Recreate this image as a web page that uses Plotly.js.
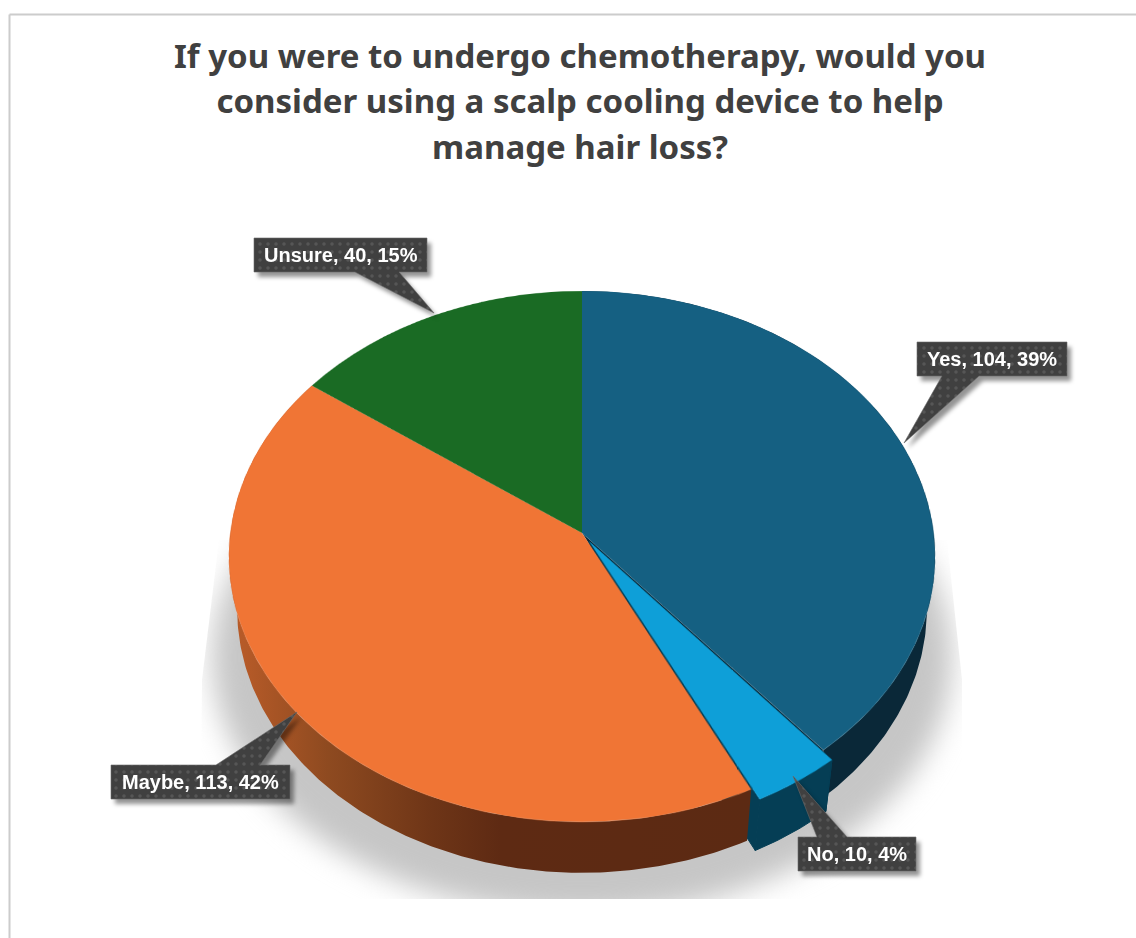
<!DOCTYPE html>
<html>
<head>
<meta charset="utf-8">
<script src="https://cdn.plot.ly/plotly-3.0.1.min.js"></script>
<style>
  html, body { margin: 0; padding: 0; background: #ffffff; overflow: hidden; }
  #stage { position: relative; width: 1136px; height: 938px; }
  #stage > div { position: absolute; }
  #base, #labels { left: 0; top: 0; width: 1136px; height: 938px; }
  #labels { pointer-events: none; }
  #groundClip {
    left: 0; top: 0; width: 1136px; height: 938px;
    clip-path: polygon(219px 540px, 947px 540px, 962px 680px, 962px 899px, 200px 899px, 202px 680px);
  }
  #ground {
    position: absolute; left: 212px; top: 400px; width: 740px; height: 515px;
    border-radius: 50%; background: #c6c6c6; filter: blur(14px);
  }
</style>
</head>
<body>
<div id="stage">
  <div id="groundClip"><div id="ground"></div></div>
  <div id="base"></div>
  <div id="disc"></div>
  <div id="labels"></div>
</div>
<script>
// Survey responses
const answers = ['Yes', 'No', 'Maybe', 'Unsure'];
const responses = [104, 10, 113, 40];
const faceColors = ['#156082', '#0E9FD8', '#F07535', '#1A6B24'];

const titleLines = [
  'If you were to undergo chemotherapy, would you',
  'consider using a scalp cooling device to help',
  'manage hair loss?'
];

// Tilted disc geometry
const centre = { x: 582, y: 533 };
const radius = 351.6;
const thickness = 82;
const tiltDeg = 41.5;
const viewDistance = 2630;
const pulls = [0, 0.038, 0, 0];
const maxPull = Math.max(...pulls);

const total = responses.reduce((a, b) => a + b, 0);
const tilt = tiltDeg * Math.PI / 180;

// Same projection as the CSS perspective applied to the pie element
function project(px, py, pz) {
  const yr = py * Math.cos(tilt) - pz * Math.sin(tilt);
  const zr = py * Math.sin(tilt) + pz * Math.cos(tilt);
  const s = viewDistance / (viewDistance - zr);
  return [centre.x + px * s, centre.y + yr * s];
}

// Slice angles, clockwise from twelve o'clock
let running = 0;
const sliceAngles = responses.map(v => {
  const a0 = running / total * 2 * Math.PI;
  running += v;
  return [a0, running / total * 2 * Math.PI];
});

function rimArc(a0, a1, depth, shift) {
  const pts = [];
  const n = Math.max(4, Math.ceil((a1 - a0) * 90));
  for (let i = 0; i <= n; i++) {
    const t = a0 + (a1 - a0) * i / n;
    pts.push(project(shift[0] + radius * Math.sin(t), shift[1] - radius * Math.cos(t), -depth));
  }
  return pts;
}

function polygonTrace(pts, extra) {
  const xs = pts.map(p => p[0]).concat(pts[0][0]);
  const ys = pts.map(p => p[1]).concat(pts[0][1]);
  return Object.assign({
    type: 'scatter', mode: 'lines', x: xs, y: ys, fill: 'toself',
    line: { width: 0 }, hoverinfo: 'skip', showlegend: false
  }, extra);
}

function outerWall(i, extra) {
  const [a0, a1] = sliceAngles[i];
  const mid = (a0 + a1) / 2;
  const off = pulls[i] * radius;
  const shift = [off * Math.sin(mid), -off * Math.cos(mid)];
  const top = rimArc(a0, a1, 0, shift);
  const bottom = rimArc(a0, a1, thickness, shift).reverse();
  return polygonTrace(top.concat(bottom), extra);
}

// Radial face of a pulled slice, plus the gap it leaves behind at the hub
function pulledFaces(i, color) {
  const [a0, a1] = sliceAngles[i];
  const mid = (a0 + a1) / 2;
  const off = pulls[i] * radius;
  const sx = off * Math.sin(mid), sy = -off * Math.cos(mid);
  const hubTop = project(sx, sy, 0), hubLow = project(sx, sy, -thickness);
  const faces = [a0, a1].map(a => {
    const px = sx + radius * Math.sin(a), py = sy - radius * Math.cos(a);
    return polygonTrace([hubTop, project(px, py, 0), project(px, py, -thickness), hubLow],
      { fillcolor: color, line: { width: 1, color: color } });
  });
  const gap = polygonTrace([
    project(0, 0, 0),
    project(radius * Math.sin(a0), -radius * Math.cos(a0), 0),
    project(radius * Math.sin(a1), -radius * Math.cos(a1), 0)
  ], { fillcolor: '#06293B' });
  return [gap].concat(faces);
}

const wallTraces = [
  outerWall(0, { fillcolor: '#0A2838' }),
  ...pulledFaces(1, '#053E55'),
  outerWall(1, { fillcolor: '#053E55', line: { width: 1, color: '#053E55' } }),
  outerWall(2, {
    fillcolor: '#7A3A18',
    fillgradient: {
      type: 'horizontal',
      colorscale: [[0, '#B85B29'], [0.03, '#B55A28'], [0.19, '#8E4A20'], [0.39, '#6E3517'], [0.52, '#5E2A13'], [1, '#5C2A13']]
    }
  })
];

const pixelAxes = {
  xaxis: { range: [0, 1136], visible: false, fixedrange: true },
  yaxis: { range: [938, 0], visible: false, fixedrange: true },
  margin: { l: 0, r: 0, t: 0, b: 0 },
  width: 1136, height: 938,
  paper_bgcolor: 'rgba(0,0,0,0)', plot_bgcolor: 'rgba(0,0,0,0)',
  showlegend: false
};
const plainConfig = { displayModeBar: false, responsive: false };

// Title, chart frame and disc side walls
const titleLineGap = 45.5;
Plotly.newPlot('base', wallTraces, Object.assign({}, pixelAxes, {
  title: {
    text: titleLines.join('<br>'),
    font: { family: 'Noto Sans, sans-serif', size: 33, color: '#404040', weight: 700 },
    x: 0.5106, xanchor: 'center', xref: 'paper',
    y: 0.928, yanchor: 'top', yref: 'container'
  },
  shapes: [
    { type: 'line', xref: 'x', yref: 'y', x0: 9.5, x1: 1136, y0: 14.5, y1: 14.5, line: { color: '#CCCCCC', width: 2 } },
    { type: 'line', xref: 'x', yref: 'y', x0: 9.5, x1: 9.5, y0: 14.5, y1: 938, line: { color: '#CCCCCC', width: 2 } }
  ]
}), plainConfig).then(gd => {
  // Open the title's line spacing slightly beyond the library default
  gd.querySelectorAll('.gtitle tspan.line').forEach((line, i) => {
    line.setAttribute('dy', (i * titleLineGap) + 'px');
  });
});

// Top face of the disc: a pie tilted with a CSS perspective
const discSize = 2 * radius * (1 + maxPull);
const discEl = document.getElementById('disc');
discEl.style.left = (centre.x - discSize / 2) + 'px';
discEl.style.top = (centre.y - discSize / 2) + 'px';
discEl.style.width = discSize + 'px';
discEl.style.height = discSize + 'px';
discEl.style.transformOrigin = '50% 50%';
discEl.style.transform = `perspective(${viewDistance}px) rotateX(${tiltDeg}deg)`;

Plotly.newPlot('disc', [{
  type: 'pie',
  labels: answers,
  values: responses,
  sort: false,
  direction: 'clockwise',
  rotation: 0,
  pull: pulls,
  marker: { colors: faceColors, line: { width: 0 } },
  textinfo: 'none',
  hoverinfo: 'label+value+percent'
}], {
  margin: { l: 0, r: 0, t: 0, b: 0 },
  width: discSize, height: discSize,
  paper_bgcolor: 'rgba(0,0,0,0)',
  showlegend: false
}, plainConfig);

// Callout outlines in chart pixels
const calloutGeometry = [
  { box: [917, 342, 1067, 376], base: [942, 979], tip: [904, 443], wedgeBelow: true },
  { box: [798, 837, 916, 871], base: [817, 847], tip: [793, 776], wedgeBelow: false },
  { box: [111, 765, 290, 799], base: [216, 260], tip: [297, 712], wedgeBelow: false },
  { box: [254, 238, 427, 272], base: [355, 399], tip: [434, 313], wedgeBelow: true }
];

function calloutOutline(c, dx, dy) {
  const [l, t, r, b] = c.box;
  const pts = c.wedgeBelow
    ? [[l, t], [r, t], [r, b], [c.base[1], b], c.tip, [c.base[0], b], [l, b]]
    : [[l, t], [c.base[0], t], c.tip, [c.base[1], t], [r, t], [r, b], [l, b]];
  return pts.map(p => [p[0] + dx, p[1] + dy]);
}

const shadowTraces = calloutGeometry.map(c =>
  polygonTrace(calloutOutline(c, 4, 5), { fillcolor: 'rgba(0,0,0,0.42)' }));
const calloutTraces = calloutGeometry.map(c =>
  polygonTrace(calloutOutline(c, 0, 0), {
    fillcolor: '#404040',
    fillpattern: { shape: '.', bgcolor: '#404040', fgcolor: '#565656', size: 8, solidity: 0.15 },
    line: { width: 0.6, color: '#6A6A6A' }
  }));

const calloutText = answers.map((name, i) =>
  `${name}, ${responses[i]}, ${Math.round(responses[i] / total * 100)}%`);

Plotly.newPlot('labels', shadowTraces.concat(calloutTraces), Object.assign({}, pixelAxes, {
  annotations: calloutGeometry.map((c, i) => ({
    xref: 'x', yref: 'y',
    x: (c.box[0] + c.box[2]) / 2,
    y: (c.box[1] + c.box[3]) / 2,
    text: calloutText[i],
    showarrow: false,
    xanchor: 'center', yanchor: 'middle',
    font: { family: 'Liberation Sans, Arial, sans-serif', size: 20, color: '#FFFFFF', weight: 700 }
  }))
}), plainConfig).then(gd => {
  const groups = gd.querySelectorAll('.scatterlayer .trace');
  for (let i = 0; i < shadowTraces.length; i++) {
    groups[i].style.filter = 'blur(2px)';
  }
});
</script>
</body>
</html>
